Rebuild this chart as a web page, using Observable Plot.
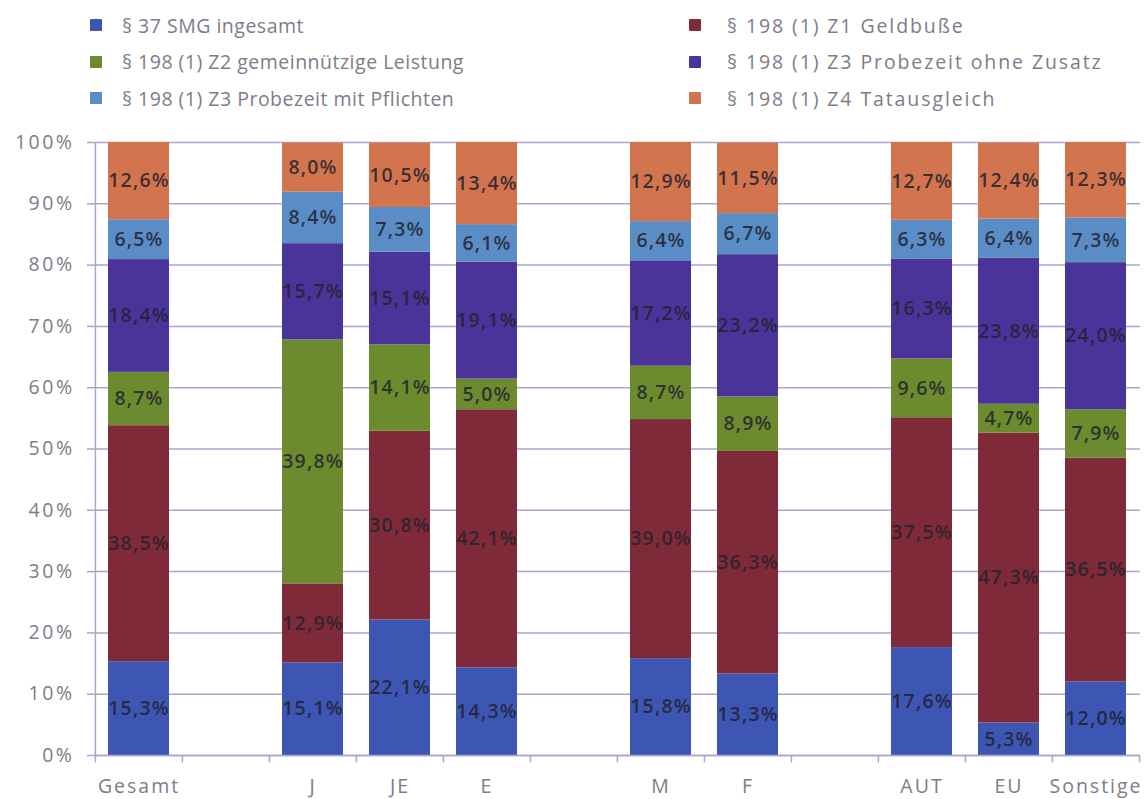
<!DOCTYPE html>
<html><head><meta charset="utf-8">
<script src="https://cdn.jsdelivr.net/npm/d3@7"></script>
<script src="https://cdn.jsdelivr.net/npm/@observablehq/plot@0.6"></script>
<style>
body{margin:0;background:#fff;font-family:"Open Sans",sans-serif;}
#legend{position:relative;height:118px;width:1146px;}
.li{position:absolute;display:flex;align-items:center;font-size:19.5px;color:#7d7c88;white-space:nowrap;}
.sw{width:12px;height:12px;display:inline-block;margin-right:20px;border-radius:1px;}
svg text{font-family:"Open Sans",sans-serif;}
g[aria-label="y-axis tick label"] text{letter-spacing:2.5px;}
g[aria-label="x-axis tick label"] text{letter-spacing:2px;}
g[aria-label="text"] text{letter-spacing:1.2px;}
</style></head><body>
<div id="legend"></div>
<div id="chart"></div>
<script>
const categories = ["Gesamt", "J", "JE", "E", "M", "F", "AUT", "EU", "Sonstige"];
const slots = ["Gesamt", "_1", "J", "JE", "E", "_2", "M", "F", "_3", "AUT", "EU", "Sonstige"];
const seriesNames = [
  "§ 37 SMG ingesamt",
  "§ 198 (1) Z1 Geldbuße",
  "§ 198 (1) Z2 gemeinnützige Leistung",
  "§ 198 (1) Z3 Probezeit ohne Zusatz",
  "§ 198 (1) Z3 Probezeit mit Pflichten",
  "§ 198 (1) Z4 Tatausgleich"
];
const colors = ["#3d55b3", "#7e2a38", "#6c8a2e", "#4a3499", "#5a8dc6", "#d2754f"];
// values in percent, per series, in category order
const smg      = [15.3, 15.1, 22.1, 14.3, 15.8, 13.3, 17.6, 5.3, 12.0];
const geldbusse= [38.5, 12.9, 30.8, 42.1, 39.0, 36.3, 37.5, 47.3, 36.5];
const gemein   = [8.7, 39.8, 14.1, 5.0, 8.7, 8.9, 9.6, 4.7, 7.9];
const ohne     = [18.4, 15.7, 15.1, 19.1, 17.2, 23.2, 16.3, 23.8, 24.0];
const mit      = [6.5, 8.4, 7.3, 6.1, 6.4, 6.7, 6.3, 6.4, 7.3];
const tat      = [12.6, 8.0, 10.5, 13.4, 12.9, 11.5, 12.7, 12.4, 12.3];
const yTicks = [0, 10, 20, 30, 40, 50, 60, 70, 80, 90, 100];

const seriesValues = [smg, geldbusse, gemein, ohne, mit, tat];
const data = [];
seriesValues.forEach((vals, si) => {
  vals.forEach((v, ci) => data.push({cat: categories[ci], series: seriesNames[si], value: v}));
});

// legend
const legendOrder = [[0, 0], [1, 1], [2, 0], [3, 1], [4, 0], [5, 1]];
const legendEl = document.getElementById("legend");
legendOrder.forEach(([si, col], k) => {
  const row = Math.floor(k / 2);
  const d = document.createElement("div");
  d.className = "li";
  d.style.left = (col === 0 ? 90 : 689) + "px";
  d.style.top = (25 + row * 36.5 - 13) + "px";
  d.style.height = "26px";
  d.style.letterSpacing = (col === 0 ? 0.5 : 1.9) + "px";
  const sw = document.createElement("span");
  sw.className = "sw";
  sw.style.background = colors[si];
  sw.style.marginRight = (col === 0 ? 20 : 26) + "px";
  d.appendChild(sw);
  d.appendChild(document.createTextNode(seriesNames[si]));
  legendEl.appendChild(d);
});

const W = 1146, ML = 94, MR = 6;
const step = (W - ML - MR) / slots.length;
const lav = "#aaa6c9";
const fmt = v => v.toFixed(1).replace(".", ",") + "%";

const chart = Plot.plot({
  width: W,
  height: 681,
  marginLeft: ML,
  marginRight: MR,
  marginTop: 24,
  marginBottom: 44,
  style: {fontSize: "19px", color: "#7d7c88", fontFamily: "Open Sans, sans-serif", background: "#fff"},
  x: {domain: slots, paddingInner: 0.3, paddingOuter: 0.15, label: null},
  y: {domain: [0, 100], label: null},
  color: {domain: seriesNames, range: colors},
  marks: [
    Plot.gridY(yTicks, {stroke: lav, strokeOpacity: 1, strokeWidth: 1.5}),
    Plot.barY(data, Plot.stackY({x: "cat", y: "value", fill: "series", order: seriesNames})),
    Plot.text(data, Plot.stackY({x: "cat", y: "value", z: "series", order: seriesNames, text: d => fmt(d.value),
      fill: "#23222e", fontSize: 19.5, fontWeight: 600, fillOpacity: 0.85})),
    Plot.ruleX(["Gesamt"], {x: d => d, dx: -step / 2, y1: 0, y2: 100, stroke: lav, strokeWidth: 1.5}),
    Plot.ruleY([0], {stroke: lav, strokeWidth: 1.5}),
    Plot.ruleX(slots, {x: d => d, dx: -step / 2, y1: 0, y2: -1.2, stroke: lav, strokeWidth: 1.5}),
    Plot.ruleX(["Sonstige"], {x: d => d, dx: step / 2, y1: 0, y2: -1.2, stroke: lav, strokeWidth: 1.5}),
    Plot.axisY(yTicks, {tickFormat: d => d + "%", tickSize: 7, tickPadding: 13, stroke: lav, strokeWidth: 1.5, fill: "#7d7c88", fontSize: 19.5, label: null}),
    Plot.axisX({tickSize: 0, tickPadding: 24, tickFormat: d => d.startsWith("_") ? "" : d, fill: "#7d7c88", fontSize: 19.5, label: null})
  ]
});
document.getElementById("chart").appendChild(chart);
</script>
</body></html>
